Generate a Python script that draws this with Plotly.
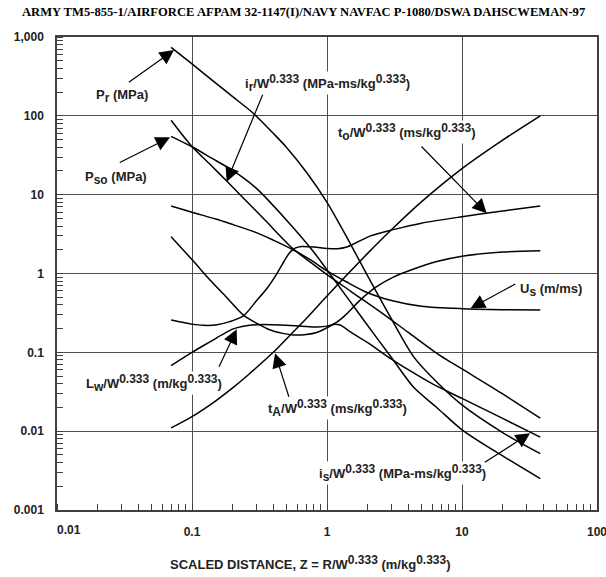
import plotly.graph_objects as go

# ---------------- data ----------------
Z_PR = [0.07, 0.1, 0.15, 0.2, 0.284, 0.4, 0.5, 0.7, 1.0, 1.4, 2.0, 3.0, 4.4, 6.5, 10, 20, 38]
PR = [740, 455, 260, 175, 108, 60, 40, 19.5, 8.0, 2.9, 0.93, 0.265, 0.087, 0.042, 0.0215, 0.0096, 0.0052]

Z_PSO = [0.07, 0.1, 0.14, 0.2, 0.3, 0.5, 0.8, 1.0, 1.4, 2.0, 3.0, 4.4, 6.5, 10, 20, 38]
PSO = [55, 40.5, 29, 20.3, 12.0, 4.77, 1.86, 1.11, 0.506, 0.219, 0.086, 0.0357, 0.02, 0.0104, 0.00485, 0.0025]

Z_IR = [0.07, 0.1, 0.14, 0.18, 0.25, 0.35, 0.56, 0.8, 1.0, 1.5, 2.44, 4.0, 6.9, 10, 20, 38]
IR = [88, 40.8, 23.1, 15.0, 8.45, 4.69, 2.06, 1.29, 0.97, 0.595, 0.333, 0.179, 0.0908, 0.0615, 0.0297, 0.0146]

Z_IS = [0.07, 0.1, 0.136, 0.18, 0.24, 0.3, 0.38, 0.47, 0.56, 0.7, 0.85, 1.0, 1.12, 1.25, 1.5, 2.0, 3.0, 4.14, 6.0, 10, 20, 38]
IS = [2.93, 1.5, 0.826, 0.5, 0.297, 0.235, 0.192, 0.174, 0.166, 0.168, 0.18, 0.205, 0.226, 0.222, 0.18, 0.133, 0.082, 0.058, 0.04, 0.026, 0.0145, 0.0084]

Z_TA = [0.07, 0.1, 0.15, 0.2, 0.254, 0.4, 0.55, 0.7, 1.0, 2.0, 3.0, 5.0, 10, 20, 38]
TA = [0.011, 0.0153, 0.0243, 0.0354, 0.0498, 0.1, 0.175, 0.267, 0.518, 1.8, 3.59, 8.1, 21.4, 49.2, 100]

Z_TO = [0.07, 0.085, 0.1, 0.12, 0.15, 0.19, 0.24, 0.3, 0.36, 0.42, 0.48, 0.53, 0.58, 0.65, 0.8, 1.0, 1.2, 1.4, 1.6, 2.1, 3.1, 5.0, 10, 20, 38]
TO = [0.257, 0.24, 0.228, 0.22, 0.222, 0.245, 0.29, 0.45, 0.65, 0.96, 1.42, 1.85, 2.1, 2.2, 2.17, 2.08, 2.06, 2.17, 2.4, 3.0, 3.6, 4.35, 5.25, 6.2, 7.2]

Z_US = [0.07, 0.1, 0.15, 0.19, 0.3, 0.4, 0.56, 0.75, 1.0, 1.4, 2.0, 3.0, 5.0, 10, 20, 38]
US = [7.2, 6.0, 4.9, 4.3, 3.3, 2.65, 2.0, 1.5, 1.08, 0.78, 0.57, 0.455, 0.385, 0.358, 0.348, 0.344]

Z_LW = [0.07, 0.1, 0.14, 0.17, 0.2, 0.24, 0.3, 0.45, 0.65, 0.85, 1.0, 1.15, 1.35, 1.76, 2.33, 3.1, 4.14, 6.5, 10, 20, 38]
LW = [0.068, 0.1, 0.14, 0.17, 0.197, 0.214, 0.224, 0.223, 0.215, 0.21, 0.215, 0.235, 0.29, 0.46, 0.68, 0.9, 1.1, 1.42, 1.66, 1.87, 1.95]

X_TICKS = [0.01, 0.1, 1, 10, 100]
X_TICKTEXT = ["", "0.1", "1", "10", "100"]
Y_TICKS = [0.001, 0.01, 0.1, 1, 10, 100, 1000]
Y_TICKTEXT = ["0.001", "0.01", "0.1", "1", "10", "100", "1,000"]

SUP = "<sup><span style='font-size:12px'>0.333</span></sup>"

def sub(t):
    return "<sub><span style='font-size:12px'>" + t + "</span></sub>"

# labels: (text, log10 x centre, log10 y centre, white background)
LABELS = [
    ("P" + sub("r") + " (MPa)", -1.522, 2.25, False),
    ("P" + sub("so") + " (MPa)", -1.563, 1.211, False),
    ("i" + sub("r") + "/W" + SUP + " (MPa-ms/kg" + SUP + ")", 0.004, 2.416, True),
    ("t" + sub("o") + "/W" + SUP + " (ms/kg" + SUP + ")", 0.593, 1.795, True),
    ("U" + sub("s") + " (m/ms)", 1.659, -0.209, False),
    ("L" + sub("w") + "/W" + SUP + " (m/kg" + SUP + ")", -1.281, -1.389, True),
    ("t" + sub("A") + "/W" + SUP + " (ms/kg" + SUP + ")", 0.081, -1.706, True),
    ("i" + sub("s") + "/W" + SUP + " (MPa-ms/kg" + SUP + ")", 0.556, -2.531, True),
]

# arrows: (tip x, tip y, tail x, tail y) in log10 units
ARROWS = [
    (-1.133, 2.835, -1.479, 2.413),
    (-1.163, 1.728, -1.546, 1.398),
    (-0.743, 1.164, -0.472, 2.286),
    (1.183, 0.764, 0.689, 1.630),
    (1.064, -0.442, 1.405, -0.124),
    (-0.669, -0.708, -0.805, -1.203),
    (-0.385, -1.012, -0.279, -1.583),
    (1.504, -2.027, 1.158, -2.408),
]

SANS = "Liberation Sans, Arial, sans-serif"
TXT = "#222222"

fig = go.Figure()
for zs, vs in [(Z_PR, PR), (Z_PSO, PSO), (Z_IR, IR), (Z_IS, IS), (Z_TA, TA),
               (Z_TO, TO), (Z_US, US), (Z_LW, LW)]:
    fig.add_trace(go.Scatter(x=zs, y=vs, mode="lines",
                             line=dict(color="black", width=1.5, shape="spline", smoothing=0.8),
                             showlegend=False, hoverinfo="skip"))

axis_common = dict(
    type="log", showgrid=True, gridcolor="#505050", gridwidth=1.3,
    showline=True, linecolor="#404040", linewidth=1.5, mirror=True,
    ticks="", zeroline=False, automargin=False, ticklabeloverflow="allow",
    tickfont=dict(family=SANS, size=12, color=TXT),
    minor=dict(ticks="inside", ticklen=6, tickcolor="#404040", tickwidth=1,
               dtick="D1", showgrid=False),
)
fig.update_xaxes(range=[-2, 2], tickmode="array", tickvals=X_TICKS,
                 ticktext=["<b>" + t + "</b>" if t else "" for t in X_TICKTEXT],
                 ticklabelstandoff=10, **axis_common)
fig.update_yaxes(range=[-3, 3], tickmode="array", tickvals=Y_TICKS,
                 ticktext=["<b>" + t + "</b>" for t in Y_TICKTEXT],
                 ticklabelstandoff=9, **axis_common)

ann = []
for text, lx, ly, bg in LABELS:
    d = dict(x=lx, y=ly, xref="x", yref="y", text="<b>" + text + "</b>", showarrow=False,
             font=dict(family=SANS, size=13, color=TXT), xanchor="center", yanchor="middle",
             borderpad=0)
    if bg:
        d["bgcolor"] = "white"
    ann.append(d)
for tx, ty, sx, sy in ARROWS:
    ann.append(dict(x=tx, y=ty, ax=sx, ay=sy, xref="x", yref="y", axref="x", ayref="y",
                    text="", showarrow=True, arrowhead=2, arrowsize=2.4, arrowwidth=1.2,
                    arrowcolor="black", standoff=0, startstandoff=0))
# first x tick label (offset to the right in the original)
ann.append(dict(x=(68.6 - 57) / 540, y=(510 - 530) / 473, xref="paper", yref="paper",
                text="<b>0.01</b>", showarrow=False, xanchor="center", yanchor="middle",
                font=dict(family=SANS, size=12, color=TXT)))
# x-axis title
ann.append(dict(x=(310 - 57) / 540, y=(510 - 562) / 473, xref="paper", yref="paper",
                text="<b>SCALED DISTANCE, Z = R/W" + SUP + " (m/kg" + SUP + ")</b>",
                showarrow=False, xanchor="center", yanchor="middle",
                font=dict(family=SANS, size=13, color=TXT)))
# header
ann.append(dict(x=(303 - 57) / 540, y=(510 - 12) / 473, xref="paper", yref="paper",
                text="<b>ARMY TM5-855-1/AIRFORCE AFPAM 32-1147(I)/NAVY NAVFAC P-1080/DSWA DAHSCWEMAN-97</b>",
                showarrow=False, xanchor="center", yanchor="middle",
                font=dict(family="Liberation Serif, Times New Roman, serif", size=12.6, color="black")))

fig.update_layout(width=606, height=577, margin=dict(l=57, r=9, t=37, b=67),
                  paper_bgcolor="white", plot_bgcolor="white", annotations=ann)
fig.write_html("out.html", config={"displayModeBar": False},
               post_script="document.body.style.margin='0px';document.body.style.overflow='hidden';")
